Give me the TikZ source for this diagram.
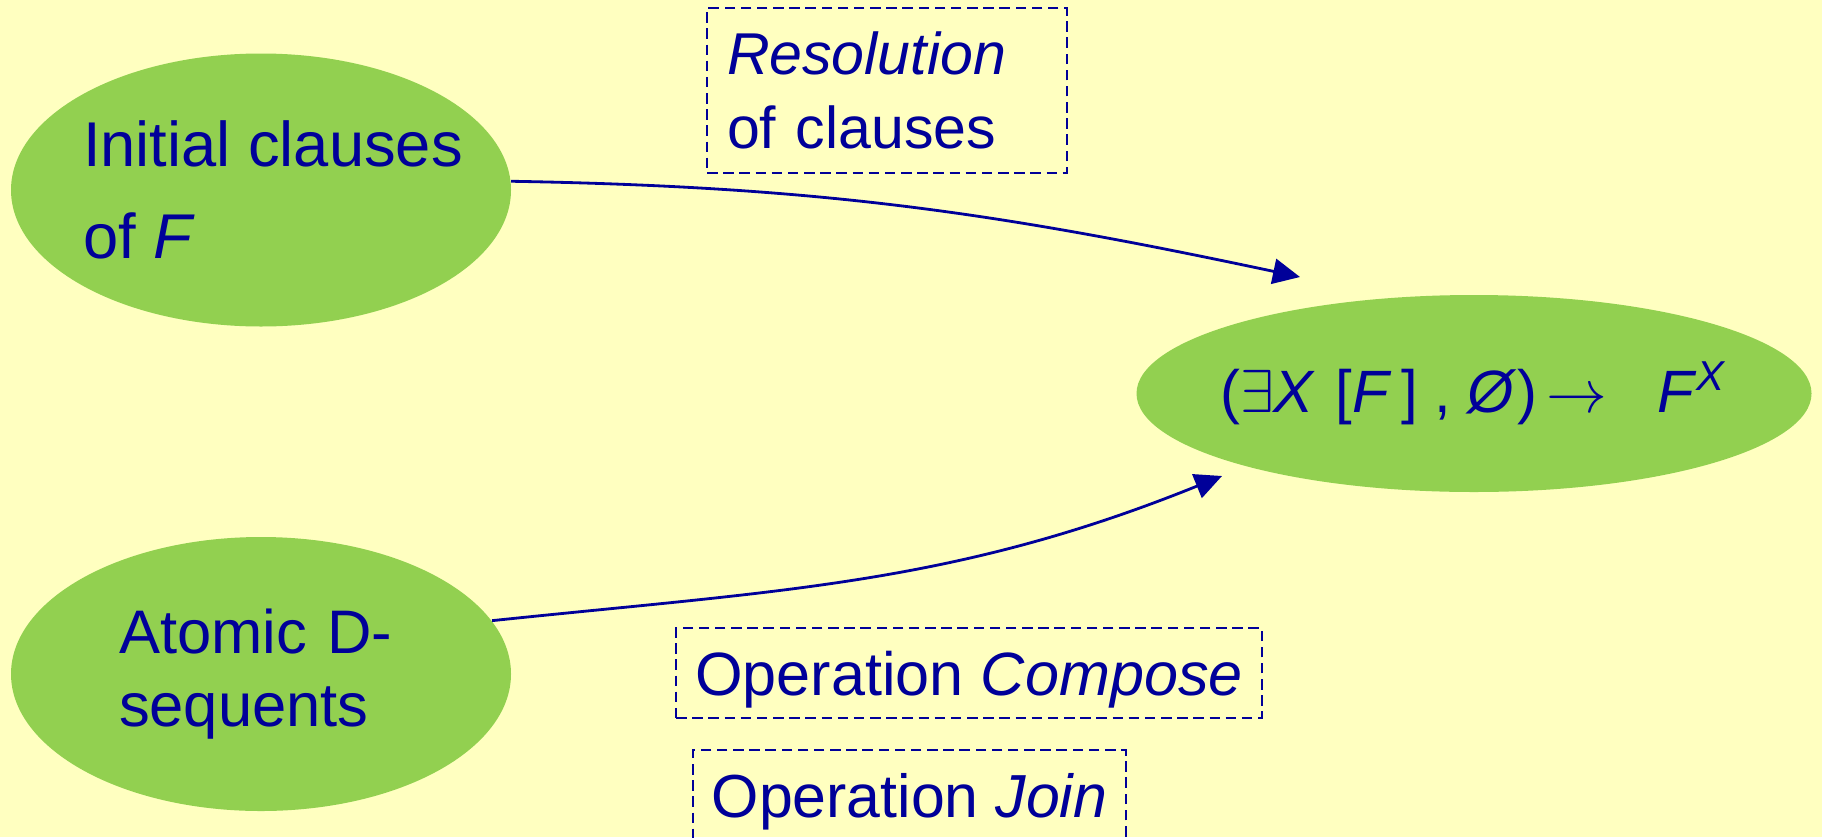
\documentclass[tikz,border=0pt]{standalone}
\usepackage{fontspec}
\setmainfont{Liberation Sans}
\usetikzlibrary{shapes,arrows.meta,calc}
\definecolor{slidebg}{RGB}{255,255,192}
\definecolor{blobgreen}{RGB}{146,208,80}
\definecolor{inkblue}{RGB}{0,0,153}

\begin{document}
\begin{tikzpicture}[
	blob/.style={ellipse, fill=blobgreen, inner xsep=-0.3cm, inner ysep=0pt, text=inkblue, align=left},
	opbox/.style={draw=inkblue, line width=0.45pt, dash pattern=on 3pt off 1.6pt, text=inkblue, inner sep=0pt},
	flow/.style={draw=inkblue, line width=0.8pt, -{Triangle[length=7.7pt,width=7.2pt]}}
	]
				% Slide background
				\clip (0,0) rectangle (18.22,-8.37);
				\fill[slidebg] (0,0) rectangle (18.22,-8.37);

				% Initial clauses
				\node[blob, minimum width=5cm, minimum height=2.73cm, font=\fontsize{18}{26.2}\selectfont] (init) at (2.61,-1.90) {\hspace*{0.24cm}Initial clauses\\\hspace*{0.24cm}of \textit{F}};

				% Atomic D-sequents
				\node[blob, text width=2.84cm, minimum width=5cm, minimum height=2.74cm, font=\fontsize{17.5}{20.8}\selectfont] (atomic) at (2.61,-6.74) {Atomic D-\\sequents};

				% Result
				\node[blob, minimum width=6.75cm, minimum height=1.97cm, font=\fontsize{17}{20}\selectfont] (result) at (14.74,-3.935) {($\exists$\textit{X}\,\,[\textit{F}\,]\ ,\ \textit{Ø})\,$\rightarrow$\ \ \ \textit{F}\textsuperscript{\textit{X}}};

				% Operations (dashed boxes)
				\node[opbox, align=left, text width=3.2cm, inner xsep=0.2cm, minimum height=1.65cm, font=\fontsize{16.8}{21}\selectfont] (resolve) at (8.87,-0.905) {\textit{Resolution}\\of clauses};
				\node[opbox, text depth=0pt, minimum width=5.86cm, minimum height=0.90cm, font=\fontsize{17.4}{21}\selectfont] (compose) at (9.69,-6.73) {Operation \textit{Compose}};
				\node[opbox, text depth=0pt, minimum width=4.33cm, minimum height=0.90cm, font=\fontsize{17.3}{21}\selectfont] (join) at (9.095,-7.95) {Operation \textit{Join}};

				% Arrows
				\coordinate (resolve-tip) at (13.00,-2.77);
				\coordinate (compose-tip) at (12.22,-4.76);
				\draw[flow] (init.2) to[out=-1, in=168] (resolve-tip);
				\draw[flow] (atomic.13) to[out=6, in=202] (compose-tip);
\end{tikzpicture}
\end{document}
